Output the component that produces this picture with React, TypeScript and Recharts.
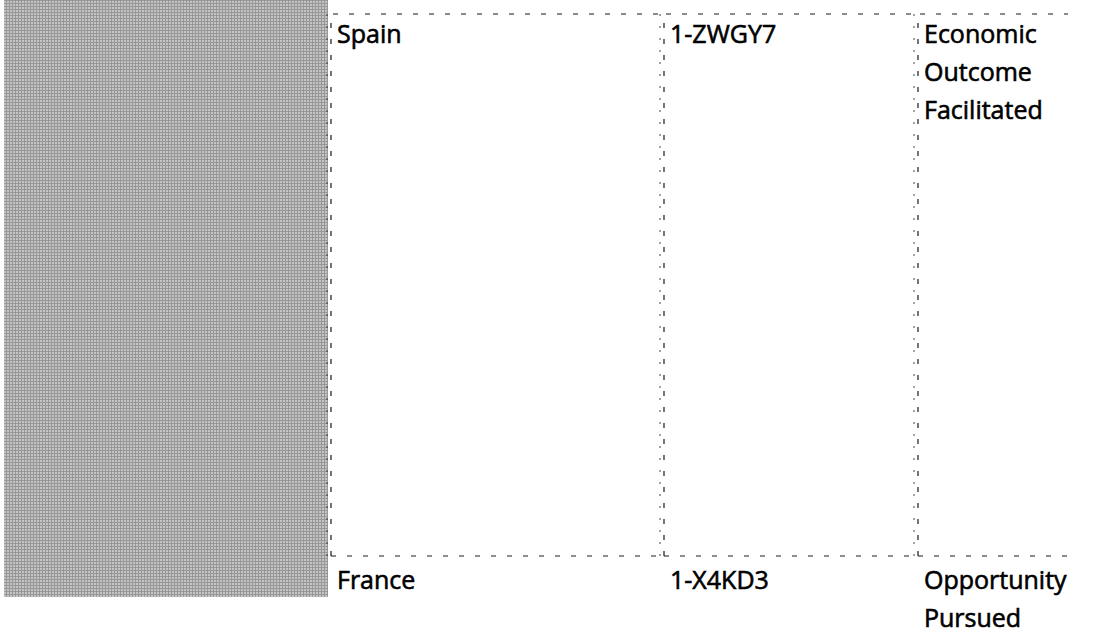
import { BarChart, Bar, XAxis, YAxis, LabelList } from "recharts";

const W = 1103;
const H = 639;

// columns of the grid, left to right
const columnKeys = ["spain", "zwgy7", "economic"];
const topLabels = ["Spain", "1-ZWGY7", "Economic\nOutcome\nFacilitated"];
const bottomLabels = ["France", "1-X4KD3", "Opportunity\nPursued"];
// relative widths of the blank lead-in and of each column (page units)
const leadIn = 331;
const columnWidths = [333, 254, 150];

// the shaded panel on the left
const panelOffset = 4;
const panelWidth = 324;

const gridRow = [
  {
    row: "grid",
    lead: leadIn,
    ...Object.fromEntries(columnKeys.map((k, i) => [k, columnWidths[i]])),
  },
];
const panelRow = [{ row: "panel", offset: panelOffset, panel: panelWidth }];

const FONT = "'Open Sans', 'Noto Sans', sans-serif";
const DASH = { stroke: "#1a1a1a", strokeWidth: 1.2, strokeDasharray: "5 11", fill: "none" };

function DashedColumn(props: any) {
  const { x, y, width, height } = props;
  return (
    <g>
      <rect x={x} y={y} width={width} height={height} fill="#fff" />
      <path d={`M${x},${y + height} L${x},${y} L${x + width},${y}`} {...DASH} />
      <path d={`M${x},${y + height} L${x + width},${y + height}`} {...DASH} />
      <path
        d={`M${x - 4},${y} L${x - 4},${y + height}`}
        {...DASH}
        strokeWidth={0.8}
        strokeDasharray="2 10"
      />
    </g>
  );
}

function ColumnLabel(props: any) {
  const { x, y, height, top, bottom } = props;
  const lineH = 38;
  return (
    <g fontFamily={FONT} fontSize={25} fill="#000" stroke="#000" strokeWidth={0.6}>
      {String(top)
        .split("\n")
        .map((t, i) => (
          <text key={`t${i}`} x={x + 6} y={y + 29 + i * lineH}>
            {t}
          </text>
        ))}
      {String(bottom)
        .split("\n")
        .map((t, i) => (
          <text key={`b${i}`} x={x + 6} y={y + height + 33 + i * lineH}>
            {t}
          </text>
        ))}
    </g>
  );
}

export default function App() {
  return (
    <div
      style={{
        position: "absolute",
        left: 0,
        top: 0,
        width: W,
        height: H,
        background: "#fff",
        overflow: "hidden",
      }}
    >
      <div style={{ position: "absolute", left: 0, top: 0 }}>
        <BarChart
          width={W}
          height={H}
          data={panelRow}
          layout="vertical"
          barCategoryGap={0}
          margin={{ top: 0, right: 0, bottom: 42, left: 0 }}
        >
          <defs>
            <pattern id="halftone" width="3" height="3" patternUnits="userSpaceOnUse">
              <rect width="3" height="3" fill="#c4c4c4" />
              <rect width="3" height="1" fill="#979797" />
              <rect width="1" height="3" fill="#979797" />
            </pattern>
          </defs>
          <XAxis type="number" domain={[0, W]} hide allowDataOverflow />
          <YAxis type="category" dataKey="row" hide />
          <Bar dataKey="offset" stackId="p" fill="transparent" isAnimationActive={false} />
          <Bar dataKey="panel" stackId="p" fill="url(#halftone)" isAnimationActive={false} />
        </BarChart>
      </div>
      <div style={{ position: "absolute", left: 0, top: 0 }}>
        <BarChart
          width={W}
          height={H}
          data={gridRow}
          layout="vertical"
          barCategoryGap={0}
          margin={{ top: 14, right: 0, bottom: 83, left: 0 }}
        >
          <XAxis type="number" domain={[0, W]} hide allowDataOverflow />
          <YAxis type="category" dataKey="row" hide />
          <Bar dataKey="lead" stackId="g" fill="transparent" isAnimationActive={false} />
          {columnKeys.map((k, i) => (
            <Bar
              key={k}
              dataKey={k}
              stackId="g"
              shape={<DashedColumn />}
              isAnimationActive={false}
            >
              <LabelList
                dataKey={k}
                content={(p: any) => (
                  <ColumnLabel {...p} top={topLabels[i]} bottom={bottomLabels[i]} />
                )}
              />
            </Bar>
          ))}
        </BarChart>
      </div>
    </div>
  );
}
